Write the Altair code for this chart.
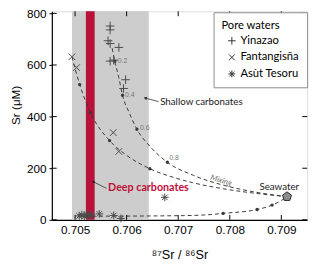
import altair as alt
import pandas as pd

# ---------------- data ----------------
yin_x = [0.70568, 0.70568, 0.70564, 0.70568, 0.70585, 0.70568, 0.70575, 0.70598, 0.70594]
yin_y = [751, 736, 694, 683, 668, 615, 619, 543, 509]
fan_x = [0.70494, 0.70503, 0.70574, 0.70585]
fan_y = [632, 590, 338, 265]
asu_x = [0.70508, 0.70513, 0.70518, 0.70522, 0.70527, 0.70531, 0.70547, 0.70575, 0.70589, 0.70674]
asu_y = [15, 20, 13, 22, 16, 19, 23, 17, 5, 87]
sw_x = [0.70911]
sw_y = [90]

# mixing curves (traced)
mix1_x = [0.70494, 0.70509, 0.70530, 0.70567, 0.70600, 0.70645, 0.70690, 0.70728, 0.70798, 0.70857, 0.70911]
mix1_y = [632, 524, 415, 307, 250, 198, 165, 144, 117, 101, 90]
mix2_x = [0.70572, 0.70577, 0.70585, 0.70592, 0.70605, 0.70620, 0.70645, 0.70679, 0.70730, 0.70800, 0.70860, 0.70911]
mix2_y = [665, 615, 550, 483, 415, 351, 285, 223, 172, 128, 104, 90]
mix3_x = [0.70520, 0.70700, 0.70760, 0.70787, 0.70853, 0.70882, 0.70900, 0.70911]
mix3_y = [14, 16, 20, 25, 40, 57, 75, 90]

dot_x = [0.70509, 0.70530, 0.70567, 0.70645, 0.70577, 0.70592, 0.70620, 0.70679, 0.70787, 0.70853, 0.70882]
dot_y = [524, 415, 307, 198, 615, 483, 351, 223, 25, 40, 57]

frac_labels = ["0.2", "0.4", "0.6", "0.8"]
frac_x = [0.70583, 0.70597, 0.70626, 0.70683]
frac_y = [615, 483, 355, 238]

x_ticks = [0.705, 0.706, 0.707, 0.708, 0.709]
y_ticks = [0, 200, 400, 600, 800]

sites = ["Yinazao", "Fantangisña", "Asùt Tesoru"]
shapes = [
    "M-1.1,0L1.1,0M0,-1.1L0,1.1",
    "M-0.85,-0.85L0.85,0.85M-0.85,0.85L0.85,-0.85",
    "M-1,0L1,0M0,-1L0,1M-0.72,-0.72L0.72,0.72M-0.72,0.72L0.72,-0.72",
]
pentagon = "M0,-1L0.951,-0.309L0.588,0.809L-0.588,0.809L-0.951,-0.309Z"

# ---------------- tables ----------------
pts = pd.DataFrame(
    {"x": yin_x + fan_x + asu_x,
     "y": yin_y + fan_y + asu_y,
     "site": [sites[0]] * len(yin_x) + [sites[1]] * len(fan_x) + [sites[2]] * len(asu_x)}
)
curves = pd.concat([
    pd.DataFrame({"x": mix1_x, "y": mix1_y, "c": "a", "i": range(len(mix1_x))}),
    pd.DataFrame({"x": mix2_x, "y": mix2_y, "c": "b", "i": range(len(mix2_x))}),
    pd.DataFrame({"x": mix3_x, "y": mix3_y, "c": "c", "i": range(len(mix3_x))}),
])
dots = pd.DataFrame({"x": dot_x, "y": dot_y})
fracs = pd.DataFrame({"x": frac_x, "y": frac_y, "t": frac_labels})
sw = pd.DataFrame({"x": sw_x, "y": sw_y})

W, H = 262, 214
xs = alt.Scale(domain=[0.70455, 0.7095], nice=False, zero=False)
ys = alt.Scale(domain=[0, 808], nice=False, zero=False)

LBL = "Liberation Sans"
CAL = "Lato"

x_axis = alt.Axis(values=x_ticks, format=".3f", tickSize=0, labelPadding=5, labelFont=LBL,
                  labelFontSize=12, labelColor="black", domainColor="black", domainWidth=1.2,
                  grid=False, title="⁸⁷Sr / ⁸⁶Sr", titleFont=LBL, titleFontSize=13,
                  titleFontWeight="normal", titleColor="black", titleY=40,
                  titleBaseline="alphabetic")
y_axis = alt.Axis(values=y_ticks, tickSize=3, labelPadding=3, labelFont=LBL, labelFontSize=12,
                  labelColor="black", domainColor="black", domainWidth=1.2, tickColor="black",
                  tickWidth=1, grid=False, title="Sr (μM)", titleFont=LBL, titleFontSize=12,
                  titleFontWeight="normal", titleColor="black", titleX=-30, titleY=96)


def X(f="x"):
    return alt.X(f + ":Q", scale=xs, axis=x_axis)


def Y(f="y"):
    return alt.Y(f + ":Q", scale=ys, axis=y_axis)


# bands
bands = pd.DataFrame({"x": [0.70494, 0.70521], "x2": [0.70643, 0.70538],
                      "col": ["#cdcdcd", "#b8123b"], "k": [0, 1]})
band = alt.Chart(bands).mark_rect().encode(
    x=X(), x2="x2:Q",
    y=alt.value(0), y2=alt.value(H),
    color=alt.Color("col:N", scale=None),
    order="k:Q",
)

# inward ticks on all four sides
xt = pd.DataFrame({"x": x_ticks})
yt = pd.DataFrame({"y": y_ticks})
tick_b = alt.Chart(xt).mark_rule(color="black", strokeWidth=1).encode(
    x=X(), y=alt.value(H), y2=alt.value(H - 5))
tick_t = alt.Chart(xt).mark_rule(color="black", strokeWidth=1).encode(
    x=X(), y=alt.value(0), y2=alt.value(5))
tick_l = alt.Chart(yt).mark_rule(color="black", strokeWidth=1).encode(
    y=Y(), x=alt.value(0), x2=alt.value(5))
tick_r = alt.Chart(yt).mark_rule(color="black", strokeWidth=1).encode(
    y=Y(), x=alt.value(W), x2=alt.value(W - 5))

lines = alt.Chart(curves).mark_line(color="#3a3a3a", strokeWidth=1, strokeDash=[4, 3],
                                    interpolate="monotone").encode(
    x=X(), y=Y(), detail="c:N", order="i:Q")

dot_layer = alt.Chart(dots).mark_circle(color="#3a3a3a", size=12, opacity=1).encode(
    x=X(), y=Y())

frac_layer = alt.Chart(fracs).mark_text(align="left", baseline="middle", fontSize=7,
                                        color="#777777", font=LBL).encode(
    x=X(), y=Y(), text="t:N")

points = alt.Chart(pts).mark_point(filled=False, strokeWidth=1, color="#4a4a4a",
                                   size=64, opacity=1).encode(
    x=X(), y=Y(),
    shape=alt.Shape("site:N", scale=alt.Scale(domain=sites, range=shapes),
                    legend=alt.Legend(title="Pore waters", orient="none",
                                      legendX=166, legendY=1,
                                      strokeColor="#8a8a8a", fillColor="white",
                                      padding=8, titleFont=CAL, titleFontSize=11.5,
                                      titleFontWeight="normal", titleColor="black",
                                      titlePadding=4, labelFont=CAL, labelFontSize=11.5,
                                      labelColor="black", symbolSize=50,
                                      symbolStrokeWidth=1, symbolStrokeColor="#333",
                                      symbolFillColor="transparent",
                                      symbolOffset=5, labelOffset=3, rowPadding=4)),
)

seawater = alt.Chart(sw).mark_point(shape=pentagon, filled=True, fill="#8c8c8c",
                                    stroke="#2a2a2a", strokeWidth=1, size=95,
                                    opacity=1).encode(x=X(), y=Y())

# annotations
ann_text = pd.DataFrame({
    "x": [0.70896, 0.70665, 0.70783],
    "y": [125, 457, 151],
    "t": ["Seawater", "Shallow carbonates", "Mixing"],
})
sea_lbl = alt.Chart(ann_text.iloc[[0]]).mark_text(font=CAL, fontSize=10, color="#222",
                                                  align="center", baseline="middle").encode(
    x=X(), y=Y(), text="t:N")
shal_lbl = alt.Chart(ann_text.iloc[[1]]).mark_text(font=CAL, fontSize=10, color="#222",
                                                   align="left", baseline="middle").encode(
    x=X(), y=Y(), text="t:N")
mix_lbl = alt.Chart(ann_text.iloc[[2]]).mark_text(font=CAL, fontSize=8, color="#6a6a6a",
                                                  fontStyle="italic", angle=17,
                                                  align="center", baseline="middle").encode(
    x=X(), y=Y(), text="t:N")

arrow = pd.DataFrame({"x": [0.70636], "y": [472], "x2": [0.70662], "y2": [458]})
shal_line = alt.Chart(arrow).mark_rule(color="#333", strokeWidth=0.8).encode(
    x=X(), y=Y(), x2="x2:Q", y2="y2:Q")
shal_head = alt.Chart(arrow).mark_point(shape="triangle-left", filled=True, color="#333",
                                        size=14, angle=17, opacity=1).encode(
    x=X(), y=Y())

deep = pd.DataFrame({"x": [0.70536], "y": [147], "x2": [0.70561], "y2": [122],
                     "tx": [0.70564], "ty": [122], "t": ["Deep carbonates"]})
deep_line = alt.Chart(deep).mark_rule(color="#333", strokeWidth=0.8).encode(
    x=X(), y=Y(), x2="x2:Q", y2="y2:Q")
deep_dot = alt.Chart(deep).mark_circle(color="#222", size=6, opacity=1).encode(
    x=X(), y=Y())
deep_lbl = alt.Chart(deep).mark_text(font=CAL, fontSize=11, fontWeight="bold",
                                     color="#c0103a", align="left",
                                     baseline="middle").encode(
    x=X("tx"), y=Y("ty"), text="t:N")

chart = alt.layer(
    band, lines, dot_layer, frac_layer, points, seawater,
    sea_lbl, shal_line, shal_head, shal_lbl, mix_lbl, deep_line, deep_dot, deep_lbl,
    tick_b, tick_t, tick_l, tick_r,
).properties(
    width=W, height=H,
    autosize=alt.AutoSizeParams(type="none"),
    padding={"left": 45, "top": 0, "right": 5, "bottom": 45},
).configure_view(stroke="black", strokeWidth=1.2).configure(background="white")

chart.save("out.html", embed_options={"renderer": "svg", "actions": False})
